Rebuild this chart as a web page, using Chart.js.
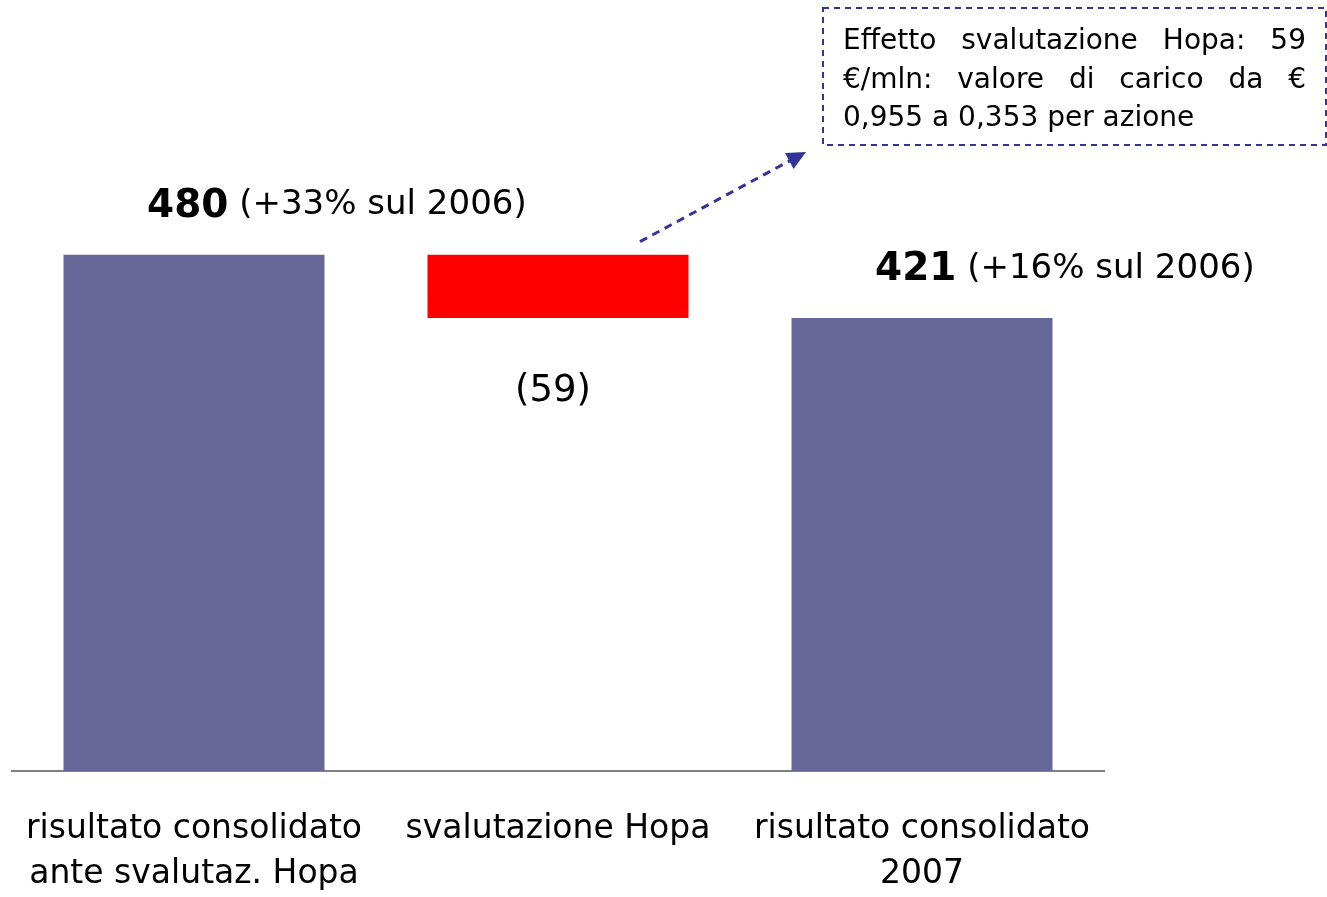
<!DOCTYPE html>
<html>
<head>
<meta charset="utf-8">
<script src="https://cdn.jsdelivr.net/npm/chart.js@4"></script>
<style>
  body { margin: 0; background: #fff; }
  #wrap { width: 1327px; height: 897px; }
</style>
</head>
<body>
<div id="wrap"><canvas id="myChart"></canvas></div>
<script>
// waterfall data
const categories = [
  ['risultato consolidato', 'ante svalutaz. Hopa'],
  ['svalutazione Hopa'],
  ['risultato consolidato', '2007']
];
const barStart = [0, 421, 0];
const barEnd = [480, 480, 421];
const barColors = ['#666699', '#ff0000', '#666699'];
const valueLabels = [
  { bold: '480', rest: ' (+33% sul 2006)' },
  { bold: '', rest: '(59)' },
  { bold: '421', rest: ' (+16% sul 2006)' }
];
const noteLines = ['Effetto svalutazione Hopa: 59', '€/mln:  valore di carico da €', '0,955 a 0,353 per azione'];

const FONT = '"DejaVu Sans", sans-serif';

const annotations = {
  id: 'annotations',
  afterDatasetsDraw(chart) {
    const ctx = chart.ctx;
    const meta = chart.getDatasetMeta(0);
    ctx.save();
    ctx.fillStyle = '#000';
    ctx.textBaseline = 'middle';
    meta.data.forEach((bar, i) => {
      const lbl = valueLabels[i];
      if (lbl.bold) {
        const y = bar.y - 49;
        let x = bar.x - 47;
        ctx.textAlign = 'left';
        ctx.font = 'bold 39px ' + FONT;
        ctx.fillText(lbl.bold, x, y + 1);
        x += ctx.measureText(lbl.bold).width;
        ctx.font = '34px ' + FONT;
        ctx.fillText(lbl.rest, x, y);
      } else {
        ctx.textAlign = 'center';
        ctx.font = '37px ' + FONT;
        ctx.fillText(lbl.rest, bar.x - 5, bar.base + 73);
      }
    });

    // note box
    const bx = 823, by = 8, bw = 503, bh = 137;
    ctx.strokeStyle = '#333399';
    ctx.lineWidth = 2;
    ctx.setLineDash([6, 5]);
    ctx.strokeRect(bx, by, bw, bh);
    ctx.font = '28px ' + FONT;
    ctx.textAlign = 'left';
    const left = bx + 20, right = bx + bw - 20;
    noteLines.forEach((line, i) => {
      const y = by + 34 + i * 38.5;
      const words = line.split(/\s+/);
      if (i === noteLines.length - 1) {
        ctx.fillText(line, left, y);
        return;
      }
      const total = words.reduce((s, w) => s + ctx.measureText(w).width, 0);
      const gap = (right - left - total) / (words.length - 1);
      let x = left;
      words.forEach(w => {
        ctx.fillText(w, x, y);
        x += ctx.measureText(w).width + gap;
      });
    });

    // dashed arrow from the red bar to the note
    const red = meta.data[1];
    const x0 = red.x + 82, y0 = red.y - 13;
    const x1 = 806, y1 = 152;
    const ang = Math.atan2(y1 - y0, x1 - x0);
    ctx.setLineDash([8, 6]);
    ctx.lineWidth = 3;
    ctx.beginPath();
    ctx.moveTo(x0, y0);
    ctx.lineTo(x1 - 14 * Math.cos(ang), y1 - 14 * Math.sin(ang));
    ctx.stroke();
    ctx.setLineDash([]);
    ctx.fillStyle = '#333399';
    ctx.beginPath();
    ctx.moveTo(x1, y1);
    ctx.lineTo(x1 - 19 * Math.cos(ang) + 9 * Math.sin(ang), y1 - 19 * Math.sin(ang) - 9 * Math.cos(ang));
    ctx.lineTo(x1 - 19 * Math.cos(ang) - 9 * Math.sin(ang), y1 - 19 * Math.sin(ang) + 9 * Math.cos(ang));
    ctx.closePath();
    ctx.fill();
    ctx.restore();
  }
};

const ctx = document.getElementById('myChart').getContext('2d');
new Chart(ctx, {
  type: 'bar',
  data: {
    labels: categories,
    datasets: [{
      data: barStart.map((s, i) => [s, barEnd[i]]),
      backgroundColor: barColors,
      borderWidth: 0,
      categoryPercentage: 1,
      barPercentage: 0.717
    }]
  },
  options: {
    responsive: true,
    maintainAspectRatio: false,
    animation: false,
    layout: { padding: { left: 12, right: 223, top: 18, bottom: 0 } },
    plugins: { legend: { display: false }, tooltip: { enabled: false } },
    scales: {
      x: {
        grid: { display: false, drawTicks: false },
        border: { display: true, color: '#808080', width: 2 },
        ticks: {
          color: '#000',
          padding: 35,
          maxRotation: 0,
          autoSkip: false,
          font: { family: FONT, size: 33, lineHeight: 1.39 }
        },
        afterFit: s => {
          s.height = 126;
          s.paddingLeft = 0;
          s.paddingRight = 0;
        }
      },
      y: {
        display: false,
        min: 0,
        max: 700
      }
    }
  },
  plugins: [annotations]
});
</script>
</body>
</html>
